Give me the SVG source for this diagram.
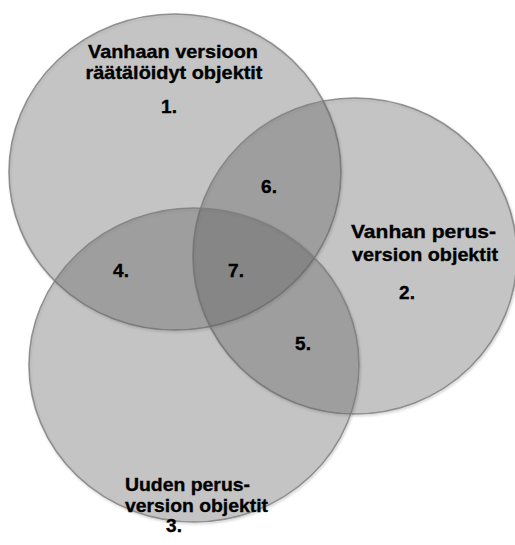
<svg xmlns="http://www.w3.org/2000/svg" width="515" height="545" viewBox="0 0 515 545">
<style>
.set{fill:rgb(100,100,100);fill-opacity:0.31;stroke:#7c7c7c;stroke-opacity:0.8;stroke-width:1.6}
.lbl{font-family:"Liberation Sans",Arial,sans-serif;font-weight:bold;font-size:19px;fill:#000;stroke:#000;stroke-width:0.35}
.mid{text-anchor:middle}
</style>
<defs>
<filter id="sh" x="-5%" y="-5%" width="110%" height="110%">
<feDropShadow dx="1" dy="1.5" stdDeviation="1.2" flood-color="#000" flood-opacity="0.25"/>
</filter>
</defs>
<rect width="515" height="545" fill="#fff"/>
<g id="connectors"></g>
<g id="set1">
<ellipse class="set" cx="175" cy="172" rx="166" ry="158" filter="url(#sh)"/>
<text class="lbl mid" x="173" y="58" textLength="170" lengthAdjust="spacingAndGlyphs">Vanhaan versioon</text>
<text class="lbl mid" x="174" y="79" textLength="177" lengthAdjust="spacingAndGlyphs">räätälöidyt objektit</text>
<text class="lbl mid" x="169" y="113">1.</text>
</g>
<g id="set2">
<ellipse class="set" cx="355" cy="256" rx="162" ry="158" filter="url(#sh)"/>
<text class="lbl" x="351" y="238" textLength="145" lengthAdjust="spacingAndGlyphs">Vanhan perus-</text>
<text class="lbl" x="352" y="261" textLength="146" lengthAdjust="spacingAndGlyphs">version objektit</text>
<text class="lbl mid" x="407" y="299">2.</text>
</g>
<g id="set3">
<ellipse class="set" cx="194" cy="365" rx="165" ry="157" filter="url(#sh)"/>
<text class="lbl" x="125" y="491" textLength="125" lengthAdjust="spacingAndGlyphs">Uuden perus-</text>
<text class="lbl" x="125" y="512" textLength="143" lengthAdjust="spacingAndGlyphs">version objektit</text>
<text class="lbl mid" x="174" y="532">3.</text>
</g>
<g id="region4"><text class="lbl mid" x="121" y="277">4.</text></g>
<g id="region5"><text class="lbl mid" x="303" y="350">5.</text></g>
<g id="region6"><text class="lbl mid" x="269" y="193">6.</text></g>
<g id="region7"><text class="lbl mid" x="236" y="277">7.</text></g>
</svg>
